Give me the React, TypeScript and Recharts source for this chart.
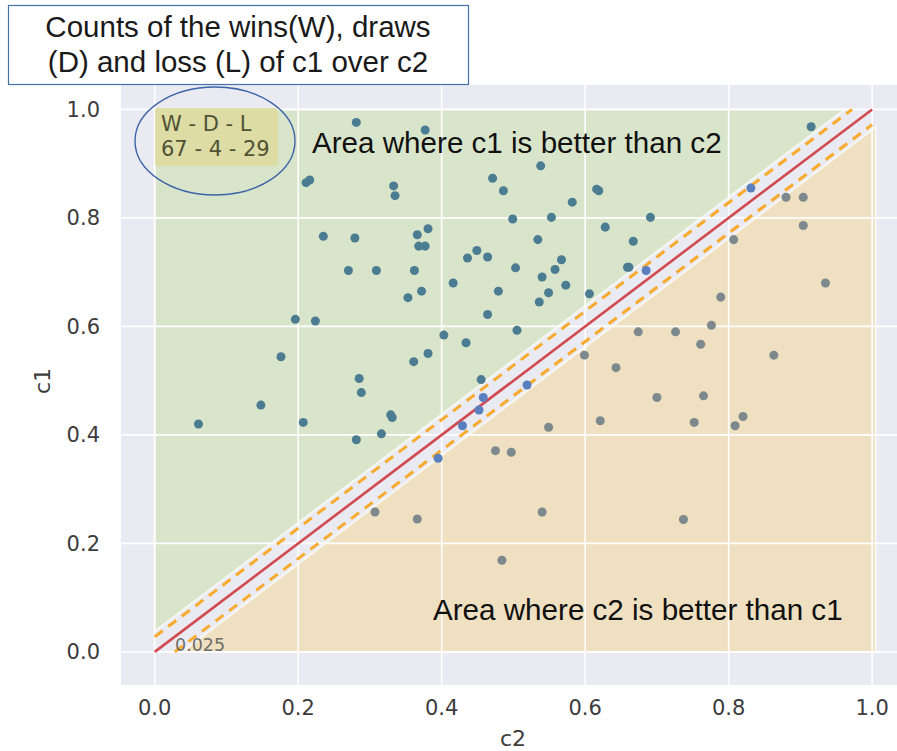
import {
  ScatterChart,
  Scatter,
  XAxis,
  YAxis,
  ZAxis,
  ReferenceArea,
  ReferenceLine,
} from "recharts";

// axis setup (seaborn-ish padding around 0..1)
const TICKS = [0, 0.2, 0.4, 0.6, 0.8, 1.0];
const X_DOMAIN = [-0.047, 1.05];
const Y_DOMAIN = [-0.061, 1.045];
const DRAW_MARGIN = 0.028; // dashed lines around the diagonal
const BAND = 0.038; // gap between the coloured areas and the diagonal

// points as [c2, c1]
const wins = [
  [0.281, 0.976], [0.377, 0.962], [0.211, 0.865], [0.216, 0.87], [0.333, 0.859],
  [0.335, 0.841], [0.235, 0.766], [0.279, 0.763], [0.27, 0.703], [0.309, 0.703],
  [0.196, 0.613], [0.224, 0.61], [0.176, 0.544], [0.285, 0.504], [0.288, 0.478],
  [0.148, 0.455], [0.061, 0.42], [0.207, 0.423], [0.329, 0.437], [0.331, 0.432],
  [0.316, 0.402], [0.281, 0.391], [0.538, 0.896], [0.471, 0.873], [0.486, 0.85],
  [0.616, 0.853], [0.619, 0.85], [0.582, 0.829], [0.499, 0.798], [0.553, 0.801],
  [0.691, 0.801], [0.628, 0.783], [0.381, 0.78], [0.366, 0.769], [0.368, 0.748],
  [0.377, 0.748], [0.534, 0.76], [0.667, 0.757], [0.449, 0.74], [0.436, 0.726],
  [0.464, 0.728], [0.567, 0.723], [0.362, 0.703], [0.503, 0.708], [0.558, 0.705],
  [0.659, 0.709], [0.661, 0.709], [0.54, 0.691], [0.416, 0.68], [0.573, 0.676],
  [0.353, 0.653], [0.372, 0.665], [0.479, 0.665], [0.549, 0.662], [0.536, 0.645],
  [0.606, 0.66], [0.464, 0.622], [0.403, 0.584], [0.505, 0.593], [0.434, 0.57],
  [0.381, 0.55], [0.361, 0.535], [0.455, 0.502], [0.915, 0.968],
];

const draws = [
  [0.685, 0.703], [0.831, 0.855], [0.458, 0.469], [0.452, 0.446], [0.429, 0.417],
  [0.519, 0.492], [0.395, 0.357],
];

const losses = [
  [0.674, 0.59], [0.726, 0.59], [0.599, 0.547], [0.643, 0.524], [0.88, 0.838],
  [0.904, 0.838], [0.904, 0.786], [0.807, 0.76], [0.935, 0.68], [0.789, 0.654],
  [0.776, 0.602], [0.761, 0.567], [0.863, 0.547], [0.307, 0.258], [0.549, 0.414],
  [0.621, 0.426], [0.475, 0.371], [0.497, 0.368], [0.366, 0.245], [0.54, 0.258],
  [0.484, 0.169], [0.7, 0.469], [0.765, 0.472], [0.752, 0.423], [0.82, 0.434],
  [0.809, 0.417], [0.737, 0.244],
];

const toPoints = (arr: number[][]) => arr.map(([c2, c1]) => ({ c2, c1 }));

const FONT = "'DejaVu Sans', sans-serif";
const SANS = "'Liberation Sans', Arial, sans-serif";

// triangle inside the reference rect: upper-left half or lower-right half
const triangle = (fill: string, upper: boolean) => (props: any) => {
  const { x, y, width, height } = props;
  const pts = upper
    ? `${x},${y + height} ${x},${y} ${x + width},${y}`
    : `${x},${y + height} ${x + width},${y + height} ${x + width},${y}`;
  return (
    <polygon
      points={pts}
      fill={fill}
      fillOpacity={0.38}
      stroke="#ffffff"
      strokeOpacity={0.65}
      strokeWidth={2}
    />
  );
};

export default function App() {
  return (
    <div
      style={{
        position: "fixed",
        left: 0,
        top: 0,
        width: 897,
        height: 751,
        overflow: "hidden",
        backgroundColor: "#ffffff",
      }}
    >
      <ScatterChart
        width={920}
        height={751}
        margin={{ top: 85, right: 12, bottom: 26, left: 61 }}
        style={{ backgroundColor: "#ffffff" }}
      >
        <XAxis
          type="number"
          dataKey="c2"
          domain={X_DOMAIN}
          ticks={TICKS}
          allowDataOverflow
          height={40}
          axisLine={false}
          tickLine={false}
          tickMargin={9}
          tickFormatter={(v: number) => v.toFixed(1)}
          tick={{ fill: "#3c3c3c", fontSize: 21, fontFamily: FONT }}
        />
        <YAxis
          type="number"
          dataKey="c1"
          domain={Y_DOMAIN}
          ticks={TICKS}
          allowDataOverflow
          width={60}
          axisLine={false}
          tickLine={false}
          tickMargin={15}
          tickFormatter={(v: number) => v.toFixed(1)}
          tick={{ fill: "#3c3c3c", fontSize: 21, fontFamily: FONT }}
        />
        <ZAxis range={[72, 72]} />
        {/* plot background + white grid */}
        <ReferenceArea
          x1={X_DOMAIN[0]}
          x2={X_DOMAIN[1]}
          y1={Y_DOMAIN[0]}
          y2={Y_DOMAIN[1]}
          fill="#eaeaf2"
          fillOpacity={1}
          stroke="none"
        />
        {TICKS.map((t) => (
          <ReferenceLine key={`gx${t}`} x={t} stroke="#ffffff" strokeWidth={1.6} />
        ))}
        {TICKS.map((t) => (
          <ReferenceLine key={`gy${t}`} y={t} stroke="#ffffff" strokeWidth={1.6} />
        ))}
        <ReferenceArea
          x1={0}
          x2={1 - BAND}
          y1={BAND}
          y2={1}
          shape={triangle("#bcdc8c", true)}
        />
        <ReferenceArea
          x1={BAND}
          x2={1.005}
          y1={0}
          y2={1.005 - BAND}
          shape={triangle("#f5d06e", false)}
        />
        <ReferenceLine
          segment={[{ x: 0, y: DRAW_MARGIN }, { x: 1 - DRAW_MARGIN, y: 1 }]}
          stroke="#f7aa2c"
          strokeWidth={3}
          strokeDasharray="10 7"
        />
        <ReferenceLine
          segment={[{ x: DRAW_MARGIN, y: 0 }, { x: 1, y: 1 - DRAW_MARGIN }]}
          stroke="#f7aa2c"
          strokeWidth={3}
          strokeDasharray="10 7"
        />
        <ReferenceLine
          segment={[{ x: 0, y: 0 }, { x: 1, y: 1 }]}
          stroke="#d04a50"
          strokeWidth={2.6}
        />
        <Scatter data={toPoints(wins)} fill="#4c7c92" isAnimationActive={false} />
        <Scatter data={toPoints(losses)} fill="#7d898c" isAnimationActive={false} />
        <Scatter data={toPoints(draws)} fill="#5a7fbf" isAnimationActive={false} />
      </ScatterChart>

      <svg
        width={897}
        height={751}
        style={{ position: "absolute", left: 0, top: 0, pointerEvents: "none" }}
      >
        {/* blank page strip to the right of the title box */}
        <rect x={470} y={0} width={427} height={84} fill="#ffffff" />

        {/* title box */}
        <rect x={8.5} y={5.5} width={460} height={79} fill="#fff" stroke="#4472a8" strokeWidth={1.2} />
        <text x={238} y={37} textAnchor="middle" fontFamily={SANS} fontSize={29.5} fill="#1a1a1a">
          Counts of the wins(W), draws
        </text>
        <text x={238} y={72} textAnchor="middle" fontFamily={SANS} fontSize={29.5} fill="#1a1a1a">
          (D) and loss (L) of c1 over c2
        </text>

        {/* W-D-L box with ellipse */}
        <rect x={155} y={108} width={123} height={58} rx={3} fill="#dcdaa0" fillOpacity={0.9} />
        <text x={161} y={131} fontFamily={FONT} fontSize={21} fill="#4f5234">
          W - D - L
        </text>
        <text x={161} y={156} fontFamily={FONT} fontSize={21} fill="#4f5234">
          67 - 4 - 29
        </text>
        <ellipse cx={215} cy={141} rx={80} ry={54} fill="none" stroke="#3d64a8" strokeWidth={1.4} />

        {/* area captions */}
        <text x={312} y={153} fontFamily={SANS} fontSize={29.6} fill="#111">
          Area where c1 is better than c2
        </text>
        <text x={433} y={620} fontFamily={SANS} fontSize={29.6} fill="#111">
          Area where c2 is better than c1
        </text>
        <text x={175} y={651} fontFamily={FONT} fontSize={17.5} fill="#555" fillOpacity={0.85}>
          0.025
        </text>

        {/* axis titles */}
        <text x={513} y={746} textAnchor="middle" fontFamily={FONT} fontSize={22} fill="#3c3c3c">
          c2
        </text>
        <text
          x={50}
          y={381}
          textAnchor="middle"
          transform="rotate(-90 50 381)"
          fontFamily={FONT}
          fontSize={22}
          fill="#3c3c3c"
        >
          c1
        </text>
      </svg>
    </div>
  );
}
